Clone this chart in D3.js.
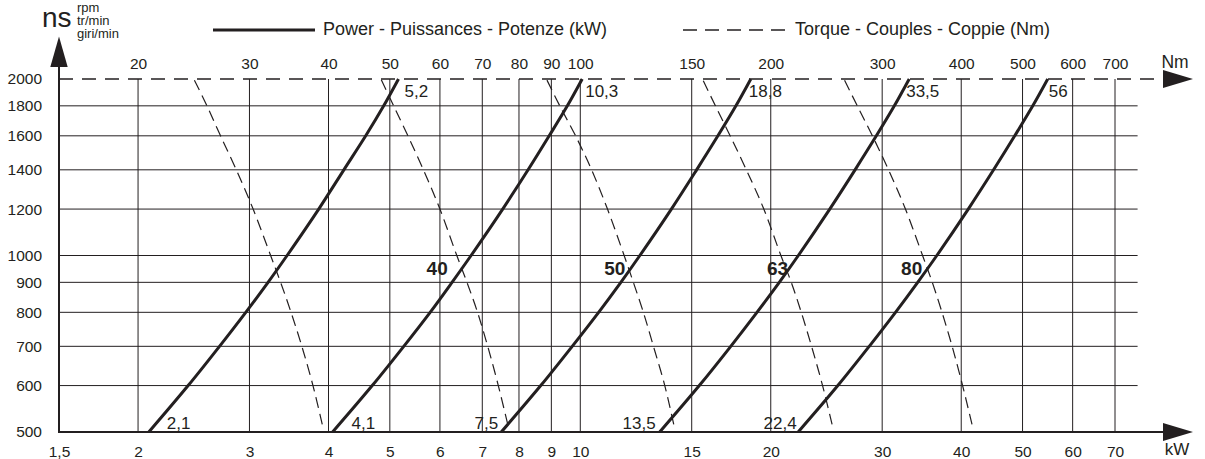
<!DOCTYPE html>
<html>
<head>
<meta charset="utf-8">
<script src="https://cdn.jsdelivr.net/npm/d3@7"></script>
<style>
  body { margin: 0; background: #fff; }
  svg text { font-family: "Liberation Sans", Arial, sans-serif; fill: #231f20; }
</style>
</head>
<body>
<svg id="chart" width="1205" height="459"></svg>
<script>
// axis ticks
const rpmTicks = [500, 600, 700, 800, 900, 1000, 1200, 1400, 1600, 1800, 2000];
const kwTicks = [1.5, 2, 3, 4, 5, 6, 7, 8, 9, 10, 15, 20, 30, 40, 50, 60, 70];
const nmTicks = [20, 30, 40, 50, 60, 70, 80, 90, 100, 150, 200, 300, 400, 500, 600, 700];

// power curves (kW) read at these speeds
const powerRpm = [500, 600, 700, 800, 900, 1000, 1200, 1400, 1600, 1800, 2000];
const power1 = [2.08, 2.40, 2.69, 2.96, 3.21, 3.44, 3.86, 4.23, 4.58, 4.89, 5.16];
const power2 = [4.06, 4.69, 5.26, 5.79, 6.27, 6.72, 7.54, 8.27, 8.93, 9.54, 10.07];
const power3 = [7.5, 8.66, 9.71, 10.69, 11.59, 12.42, 13.93, 15.27, 16.5, 17.62, 18.6];
const power4 = [13.35, 15.42, 17.29, 19.02, 20.63, 22.11, 24.79, 27.18, 29.37, 31.36, 33.1];
const power5 = [22.1, 25.53, 28.62, 31.49, 34.14, 36.6, 41.04, 45.0, 48.6, 51.9, 54.8];

// torque curves (Nm)
const torqueRpm = [515, 600, 700, 800, 900, 1000, 1200, 1400, 1600, 1800, 2000];
const torque1 = [39.1, 37.8, 36.3, 34.9, 33.6, 32.4, 30.4, 28.6, 27.0, 25.7, 24.5];
const torque2 = [76.8, 74.2, 71.4, 68.8, 66.2, 63.8, 60.0, 56.5, 53.4, 50.7, 48.4];
const torque3 = [140.5, 136, 130.5, 125.8, 121.3, 117.3, 110.4, 104.2, 98.3, 92.8, 88.4];
const torque4 = [250, 241.5, 232, 223.5, 215.5, 207.5, 195, 183, 172.5, 163.5, 156];
const torque5 = [416, 402, 387, 373, 360, 347.5, 326.5, 307, 289.5, 274, 261];

// nominal values written at the curve ends
const lowLabels = [2.1, 4.1, 7.5, 13.5, 22.4];
const highLabels = [5.2, 10.3, 18.8, 33.5, 56];

// gear sizes
const sizeNames = ["40", "50", "63", "80"];
const sizeAtKw = [5.94, 11.34, 20.5, 33.4];
const sizeAtRpm = 950;

const powers = [power1, power2, power3, power4, power5];
const torques = [torque1, torque2, torque3, torque4, torque5];

const svg = d3.select("#chart");
const ink = "#231f20";

const x = d3.scaleLog().domain([1.5, 70]).range([59, 1115]);
const xNm = d3.scaleLog().domain([15, 700]).range([59, 1115]);
const y = d3.scaleLog().domain([500, 2000]).range([432, 79]);

const fmt = d3.formatLocale({decimal: ",", thousands: "", grouping: [3], currency: ["", ""]}).format("~g");

const gridEndKw = 76;
const arrowTipX = 1193;

// grid
const grid = svg.append("g").attr("stroke", ink).attr("stroke-width", 1);
grid.selectAll(".v").data(kwTicks.slice(1)).join("line")
    .attr("x1", d => x(d)).attr("x2", d => x(d))
    .attr("y1", y(500)).attr("y2", y(2000));
grid.selectAll(".h").data(rpmTicks.slice(1, -1)).join("line")
    .attr("x1", x(1.5)).attr("x2", x(gridEndKw))
    .attr("y1", d => y(d)).attr("y2", d => y(d));

// bottom axis (kW)
svg.append("line")
    .attr("x1", x(1.5) - 1).attr("x2", arrowTipX - 20)
    .attr("y1", y(500)).attr("y2", y(500))
    .attr("stroke", ink).attr("stroke-width", 2);
svg.append("path")
    .attr("d", `M${arrowTipX - 30},${y(500) - 9}L${arrowTipX},${y(500)}L${arrowTipX - 30},${y(500) + 9}Z`)
    .attr("fill", ink);

// top dashed axis (Nm)
svg.append("line")
    .attr("x1", x(1.5)).attr("x2", arrowTipX - 25)
    .attr("y1", y(2000)).attr("y2", y(2000))
    .attr("stroke", ink).attr("stroke-width", 1.5)
    .attr("stroke-dasharray", "14,9");
svg.append("path")
    .attr("d", `M${arrowTipX - 30},${y(2000) - 9}L${arrowTipX},${y(2000)}L${arrowTipX - 30},${y(2000) + 9}Z`)
    .attr("fill", ink);

// vertical axis (rpm)
svg.append("line")
    .attr("x1", x(1.5)).attr("x2", x(1.5))
    .attr("y1", y(500) + 1).attr("y2", 60)
    .attr("stroke", ink).attr("stroke-width", 2);
svg.append("path")
    .attr("d", `M${x(1.5) - 8.7},67L${x(1.5)},36.5L${x(1.5) + 8.7},67Z`)
    .attr("fill", ink);

const bottomAxis = svg.append("g")
    .attr("transform", `translate(0,${y(500)})`)
    .call(d3.axisBottom(x).tickValues(kwTicks).tickFormat(fmt).tickSize(0).tickPadding(14));
const topAxis = svg.append("g")
    .attr("transform", `translate(0,${y(2000)})`)
    .call(d3.axisTop(xNm).tickValues(nmTicks).tickFormat(fmt).tickSize(0).tickPadding(10));
const leftAxis = svg.append("g")
    .attr("transform", `translate(${x(1.5)},0)`)
    .call(d3.axisLeft(y).tickValues(rpmTicks).tickFormat(fmt).tickSize(0).tickPadding(17));

for (const ax of [bottomAxis, topAxis, leftAxis]) {
    ax.select(".domain").remove();
    ax.selectAll("text")
      .attr("fill", ink)
      .style("font-family", "'Liberation Sans', Arial, sans-serif")
      .style("font-size", "15.5px");
}

svg.append("text").attr("x", 1177).attr("y", 455)
    .attr("text-anchor", "middle").style("font-size", "17px").text("kW");
svg.append("text").attr("x", 1175).attr("y", 68)
    .attr("text-anchor", "middle").style("font-size", "17.5px").text("Nm");

// ns unit block
svg.append("text").attr("x", 42).attr("y", 27.3)
    .style("font-size", "28px").text("ns");
const units = ["rpm", "tr/min", "giri/min"];
svg.selectAll(".unit").data(units).join("text")
    .attr("x", 77).attr("y", (d, i) => 12 + i * 12.8)
    .style("font-size", "13px").text(d => d);

// legend
svg.append("line").attr("x1", 213).attr("x2", 315).attr("y1", 30).attr("y2", 30)
    .attr("stroke", ink).attr("stroke-width", 3);
svg.append("text").attr("x", 323).attr("y", 34.5)
    .style("font-size", "18px").text("Power - Puissances - Potenze (kW)");
svg.append("line").attr("x1", 683).attr("x2", 787).attr("y1", 30).attr("y2", 30)
    .attr("stroke", ink).attr("stroke-width", 1.3).attr("stroke-dasharray", "14,8");
svg.append("text").attr("x", 795).attr("y", 34.5)
    .style("font-size", "18px").text("Torque - Couples - Coppie (Nm)");

// curves
const powerLine = d3.line()
    .x(d => x(d[1]))
    .y(d => y(d[0]))
    .curve(d3.curveCatmullRom);
const torqueLine = d3.line()
    .x(d => xNm(d[1]))
    .y(d => y(d[0]))
    .curve(d3.curveCatmullRom);

svg.append("g").selectAll("path").data(torques).join("path")
    .attr("d", t => torqueLine(torqueRpm.map((n, i) => [n, t[i]])))
    .attr("fill", "none").attr("stroke", ink)
    .attr("stroke-width", 1.2).attr("stroke-dasharray", "11,6");

svg.append("g").selectAll("path").data(powers).join("path")
    .attr("d", p => powerLine(powerRpm.map((n, i) => [n, p[i]])))
    .attr("fill", "none").attr("stroke", ink)
    .attr("stroke-width", 3);

// end labels
const lowDx = [18, 19, -3, -4, -1.5];
const lowAnchor = ["start", "start", "end", "end", "end"];
svg.selectAll(".low").data(lowLabels).join("text")
    .attr("x", (d, i) => x(powers[i][0]) + lowDx[i])
    .attr("y", y(500) - 3)
    .attr("text-anchor", (d, i) => lowAnchor[i])
    .style("font-size", "17px")
    .text(d => fmt(d));

const highDx = [6, 3, -2, -3, 1];
svg.selectAll(".high").data(highLabels).join("text")
    .attr("x", (d, i) => x(powers[i][powers[i].length - 1]) + highDx[i])
    .attr("y", y(2000) + 17.5)
    .style("font-size", "17px")
    .text(d => fmt(d));

svg.selectAll(".size").data(sizeNames).join("text")
    .attr("x", (d, i) => x(sizeAtKw[i]))
    .attr("y", y(sizeAtRpm))
    .attr("text-anchor", "middle")
    .attr("dominant-baseline", "central")
    .style("font-size", "19px")
    .style("font-weight", "bold")
    .text(d => d);
</script>
</body>
</html>
